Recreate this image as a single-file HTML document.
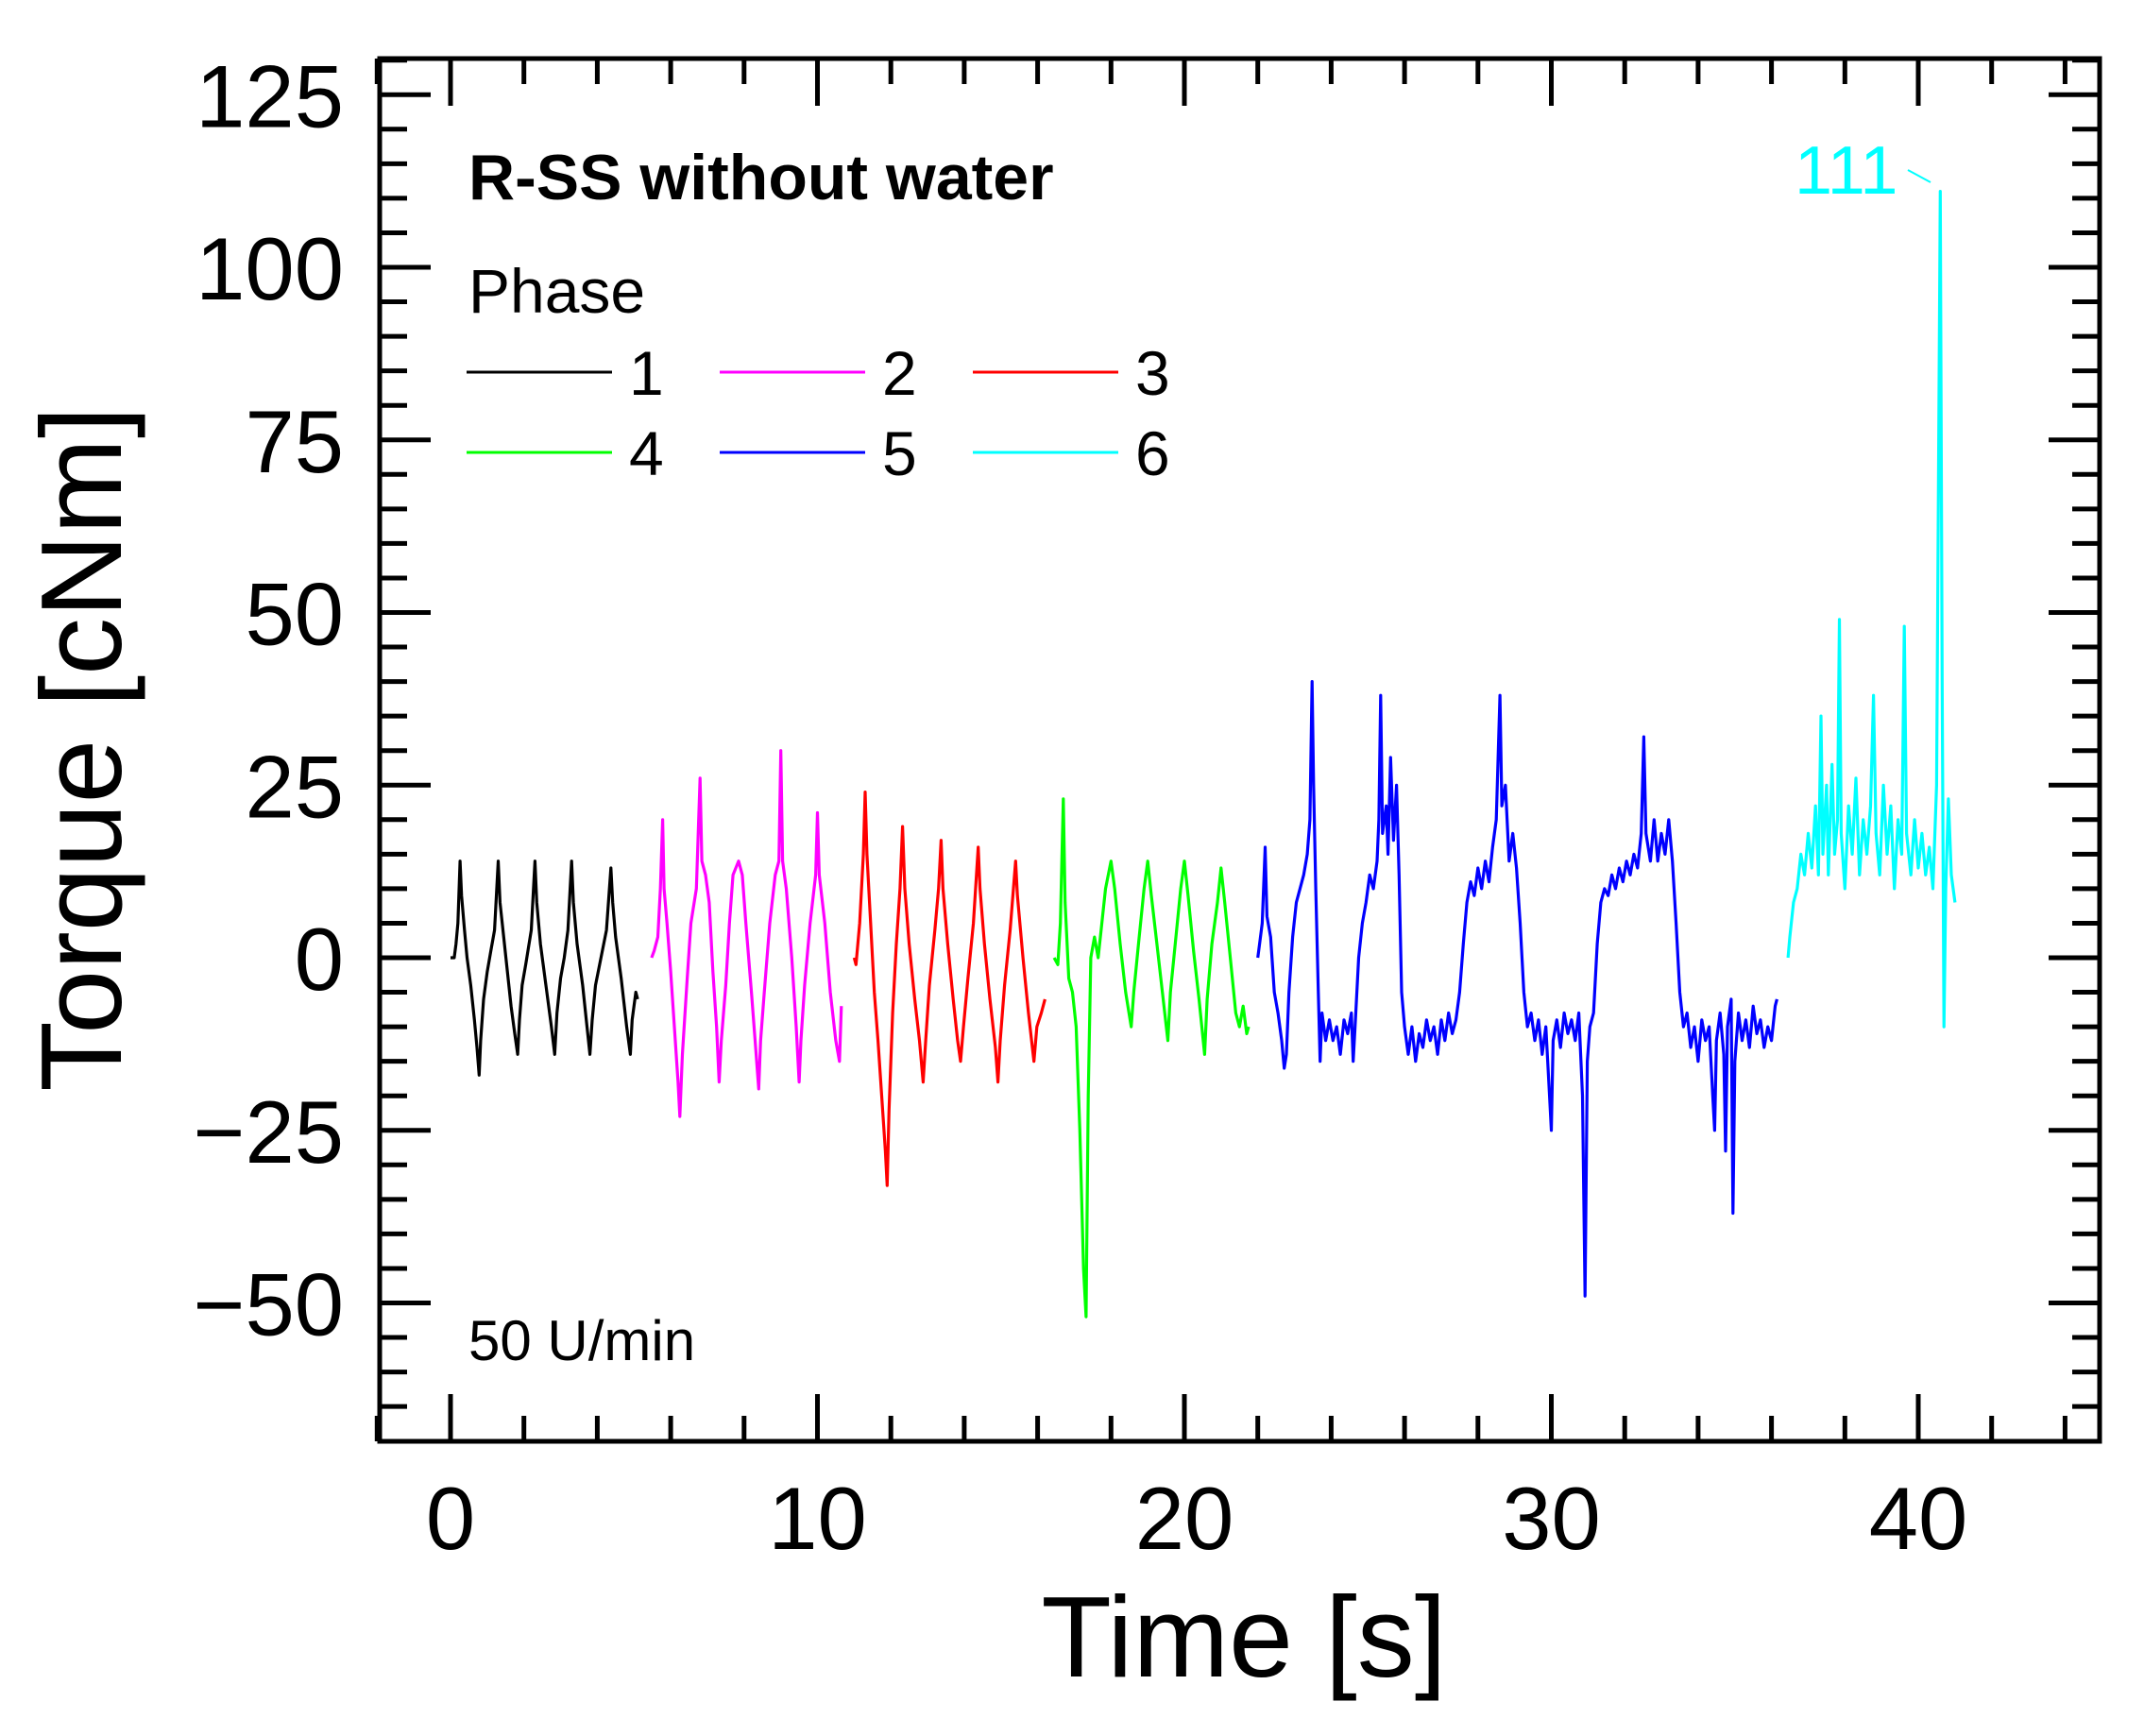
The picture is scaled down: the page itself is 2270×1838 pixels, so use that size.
<!DOCTYPE html>
<html><head><meta charset="utf-8"><style>
html,body{margin:0;padding:0;background:#fff;}
svg{display:block;font-family:"Liberation Sans",Arial,sans-serif;}
</style></head><body>
<svg id="chart" width="2270" height="1838" viewBox="0 0 2270 1838">
<g id="ticks"></g>
<g id="series"></g>
<rect x="402" y="62" width="1821" height="1464" fill="none" stroke="#000" stroke-width="5"/>
<g id="labels"></g>
<text x="1317" y="1775" font-size="122" text-anchor="middle">Time [s]</text>
<text transform="translate(128,793) rotate(-90)" font-size="122" text-anchor="middle">Torque [cNm]</text>
<text x="496" y="211" font-size="68" font-weight="bold">R-SS without water</text>
<text x="496" y="331" font-size="66">Phase</text>
<g id="legend"></g>
<text x="496" y="1440" font-size="60">50 U/min</text>
<text x="1900" y="205" font-size="72" fill="#00ffff">111</text>
<line x1="2020" y1="180" x2="2044" y2="193" stroke="#00ffff" stroke-width="2"/>
</svg>
<script>
const phaseColors = ["#000000","#ff00ff","#ff0000","#00ff00","#0000ff","#00ffff"];
const phaseNames = ["1","2","3","4","5","6"];
const xTicks = [0,10,20,30,40];
const yTicks = [-50,-25,0,25,50,75,100,125];
const yTickLabels = ["\u221250","\u221225","0","25","50","75","100","125"];
const phase1 = [[0,0],[0.1,0],[0.15,2],[0.2,5],[0.26,14],[0.3,9],[0.38,4],[0.45,0],[0.55,-4],[0.65,-9],[0.72,-13],[0.78,-17],[0.82,-12],[0.9,-6],[1.0,-2],[1.1,1],[1.2,4],[1.3,14],[1.35,8],[1.45,3],[1.55,-2],[1.65,-7],[1.75,-11],[1.83,-14],[1.88,-9],[1.95,-4],[2.05,-1],[2.2,4],[2.3,14],[2.35,8],[2.45,2],[2.6,-4],[2.75,-10],[2.84,-14],[2.9,-8],[3.0,-3],[3.1,0],[3.2,4],[3.3,14],[3.35,8],[3.45,2],[3.6,-4],[3.72,-10],[3.8,-14],[3.86,-9],[3.95,-4],[4.1,0],[4.25,4],[4.37,13],[4.42,8],[4.5,3],[4.65,-3],[4.8,-10],[4.9,-14],[4.95,-9],[5.05,-5],[5.1,-6]];
const phase2 = [[5.48,0],[5.55,1],[5.65,3],[5.72,10],[5.78,20],[5.82,10],[5.9,5],[6.0,-2],[6.1,-10],[6.2,-18],[6.25,-23],[6.32,-14],[6.45,-3],[6.55,5],[6.7,10],[6.8,26],[6.85,14],[6.95,12],[7.05,8],[7.15,-2],[7.25,-10],[7.32,-18],[7.38,-12],[7.5,-4],[7.6,5],[7.7,12],[7.85,14],[7.95,12],[8.05,5],[8.2,-5],[8.3,-12],[8.4,-19],[8.45,-12],[8.55,-5],[8.7,5],[8.85,12],[8.95,14],[9.0,30],[9.05,14],[9.15,10],[9.3,0],[9.42,-10],[9.5,-18],[9.55,-12],[9.65,-4],[9.8,5],[9.95,12],[10.0,21],[10.05,12],[10.2,5],[10.35,-5],[10.5,-12],[10.6,-15],[10.65,-7]];
const phase3 = [[11.0,0],[11.05,-1],[11.15,5],[11.25,15],[11.3,24],[11.35,15],[11.45,5],[11.55,-5],[11.65,-12],[11.75,-20],[11.85,-28],[11.9,-33],[11.95,-22],[12.05,-8],[12.15,2],[12.25,10],[12.32,19],[12.38,10],[12.5,2],[12.65,-6],[12.78,-12],[12.88,-18],[12.95,-12],[13.05,-4],[13.2,4],[13.3,10],[13.37,17],[13.42,10],[13.55,2],[13.7,-6],[13.82,-12],[13.9,-15],[13.98,-10],[14.1,-3],[14.25,5],[14.38,16],[14.43,10],[14.55,2],[14.7,-6],[14.85,-13],[14.92,-18],[14.98,-12],[15.1,-4],[15.25,4],[15.4,14],[15.45,9],[15.6,0],[15.75,-8],[15.9,-15],[15.98,-10],[16.1,-8],[16.2,-6]];
const phase4 = [[16.45,0],[16.55,-1],[16.62,5],[16.7,23],[16.75,8],[16.85,-3],[16.95,-5],[17.05,-10],[17.15,-25],[17.25,-45],[17.32,-52],[17.38,-20],[17.45,0],[17.55,3],[17.65,0],[17.75,5],[17.85,10],[18.0,14],[18.1,10],[18.25,2],[18.4,-5],[18.55,-10],[18.62,-5],[18.75,2],[18.9,10],[19.0,14],[19.1,9],[19.25,2],[19.4,-5],[19.55,-12],[19.62,-5],[19.75,2],[19.9,10],[20.0,14],[20.1,9],[20.25,1],[20.4,-6],[20.55,-14],[20.62,-6],[20.75,2],[20.9,8],[21.0,13],[21.1,8],[21.25,0],[21.4,-8],[21.5,-10],[21.6,-7],[21.7,-11],[21.75,-10]];
const phase5 = [[22.0,0],[22.05,2],[22.12,5],[22.2,16],[22.25,6],[22.35,3],[22.45,-5],[22.55,-8],[22.65,-12],[22.72,-16],[22.78,-14],[22.85,-5],[22.95,3],[23.05,8],[23.15,10],[23.25,12],[23.35,15],[23.42,20],[23.48,40],[23.52,25],[23.58,10],[23.65,-5],[23.7,-15],[23.75,-8],[23.85,-12],[23.95,-9],[24.05,-12],[24.15,-10],[24.25,-14],[24.35,-9],[24.45,-11],[24.55,-8],[24.6,-15],[24.65,-10],[24.75,0],[24.85,5],[24.95,8],[25.05,12],[25.15,10],[25.25,14],[25.3,20],[25.35,38],[25.4,18],[25.5,22],[25.55,15],[25.62,29],[25.7,17],[25.78,25],[25.85,12],[25.92,-5],[26.0,-10],[26.1,-14],[26.2,-10],[26.3,-15],[26.4,-11],[26.5,-13],[26.6,-9],[26.7,-12],[26.8,-10],[26.9,-14],[27.0,-9],[27.1,-12],[27.2,-8],[27.3,-11],[27.4,-9],[27.5,-5],[27.6,2],[27.7,8],[27.8,11],[27.9,9],[28.0,13],[28.1,10],[28.2,14],[28.3,11],[28.4,16],[28.5,20],[28.6,38],[28.65,22],[28.75,25],[28.85,14],[28.95,18],[29.05,13],[29.15,5],[29.25,-5],[29.35,-10],[29.45,-8],[29.55,-12],[29.65,-9],[29.75,-14],[29.85,-10],[29.95,-20],[30.0,-25],[30.05,-12],[30.15,-9],[30.25,-13],[30.35,-8],[30.45,-11],[30.55,-9],[30.65,-12],[30.75,-8],[30.85,-20],[30.92,-49],[30.98,-15],[31.05,-10],[31.15,-8],[31.25,2],[31.35,8],[31.45,10],[31.55,9],[31.65,12],[31.75,10],[31.85,13],[31.95,11],[32.05,14],[32.15,12],[32.25,15],[32.35,13],[32.45,18],[32.52,32],[32.58,18],[32.7,14],[32.8,20],[32.9,14],[33.0,18],[33.1,15],[33.2,20],[33.3,14],[33.4,5],[33.5,-5],[33.6,-10],[33.7,-8],[33.8,-13],[33.9,-10],[34.0,-15],[34.1,-9],[34.2,-12],[34.3,-10],[34.4,-20],[34.45,-25],[34.5,-12],[34.6,-8],[34.7,-14],[34.75,-28],[34.8,-10],[34.9,-6],[34.95,-37],[35.0,-15],[35.1,-8],[35.2,-12],[35.3,-9],[35.4,-13],[35.5,-7],[35.6,-11],[35.7,-9],[35.8,-13],[35.9,-10],[36.0,-12],[36.1,-7],[36.15,-6]];
const phase6 = [[36.45,0],[36.5,3],[36.6,8],[36.7,10],[36.8,15],[36.9,12],[37.0,18],[37.1,13],[37.2,22],[37.28,12],[37.35,35],[37.4,15],[37.5,25],[37.55,12],[37.65,28],[37.72,15],[37.8,20],[37.85,49],[37.9,18],[38.0,10],[38.1,22],[38.2,15],[38.3,26],[38.4,12],[38.5,20],[38.6,15],[38.7,22],[38.78,38],[38.85,18],[38.95,12],[39.05,25],[39.15,15],[39.25,22],[39.35,10],[39.45,20],[39.55,15],[39.62,48],[39.68,18],[39.8,12],[39.9,20],[40.0,13],[40.1,18],[40.2,12],[40.3,16],[40.4,10],[40.5,25],[40.6,111],[40.65,40],[40.7,-10],[40.75,10],[40.82,23],[40.9,12],[41.0,8]];

const NS="http://www.w3.org/2000/svg";
const L=402,R=2223,T=62,B=1526;
function X(t){return 477+38.85*t;}
function Y(v){return 1014-7.31*v;}
function mk(tag,attrs,parent){const e=document.createElementNS(NS,tag);for(const k in attrs)e.setAttribute(k,attrs[k]);parent.appendChild(e);return e;}
const tg=document.getElementById('ticks');
for(let t=-2;t<=44;t+=2){
  const major=(t%10===0);const len=major?50:27;
  let e=mk('line',{x1:X(t),x2:X(t),y1:B,y2:B-len,stroke:'#000','stroke-width':5},tg);
  
  
  e=mk('line',{x1:X(t),x2:X(t),y1:T,y2:T+len,stroke:'#000','stroke-width':5},tg);
  
  
}
for(let v=-65;v<=130;v+=5){
  const major=(v%25===0);const len=major?54:29;
  let e=mk('line',{x1:L,x2:L+len,y1:Y(v),y2:Y(v),stroke:'#000','stroke-width':5},tg);
  
  
  e=mk('line',{x1:R,x2:R-len,y1:Y(v),y2:Y(v),stroke:'#000','stroke-width':5},tg);
  
  
}
const lg=document.getElementById('labels');
xTicks.forEach(t=>{const e=mk('text',{x:X(t),y:1640,'font-size':94,'text-anchor':'middle'},lg);e.textContent=String(t);
  
  });
yTicks.forEach((v,i)=>{const e=mk('text',{x:364,y:Y(v)+34,'font-size':94,'text-anchor':'end'},lg);e.textContent=yTickLabels[i];
  
  });
const sg=document.getElementById('series');
[phase1,phase2,phase3,phase4,phase5,phase6].forEach((d,i)=>{
  const p=mk('polyline',{points:d.map(q=>X(q[0]).toFixed(1)+','+Y(q[1]).toFixed(1)).join(' '),fill:'none',stroke:phaseColors[i],'stroke-width':3.2,'stroke-linejoin':'round'},sg);
  
  
});
const leg=document.getElementById('legend');
const colX=[494,762,1030],rowY=[394,479];
phaseNames.forEach((n,i)=>{
  const cx=colX[i%3],cy=rowY[Math.floor(i/3)];
  const g=mk('g',{},leg);
  
  
  mk('line',{x1:cx,x2:cx+154,y1:cy,y2:cy,stroke:phaseColors[i],'stroke-width':3},g);
  const t=mk('text',{x:cx+172,y:cy+24,'font-size':66},g);t.textContent=n;
});
</script>
</body></html>
